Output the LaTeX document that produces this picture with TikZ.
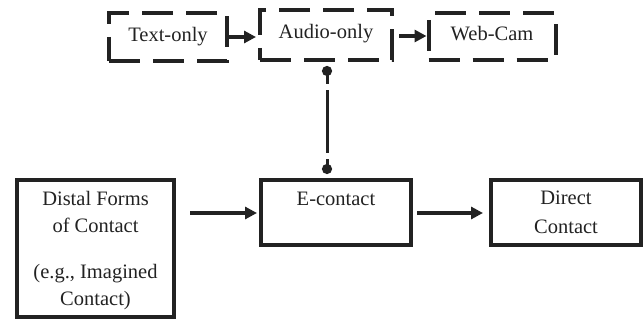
\documentclass[tikz,border=0pt]{standalone}
\usepackage{fontspec}
\setmainfont{Liberation Serif}
\usetikzlibrary{arrows.meta}
\definecolor{ink}{HTML}{222222}
\begin{document}
\begin{tikzpicture}[x=1pt,y=-1pt,
  txt/.style={font=\fontsize{20.5}{27}\selectfont, text=ink, align=center, inner sep=0pt},
  box/.style={draw=ink, line width=4pt, minimum width=#1, inner sep=0pt},
  dbox/.style={box=#1, dash pattern=on 31pt off 13pt},
  arr/.style={draw=ink, line width=4pt, -{Triangle[length=12pt,width=12pt]}},
  link/.style={draw=ink, line width=3pt, {Circle[length=10pt]}-{Circle[length=10pt]},
    dash pattern=on 10pt off 6pt on 63pt off 6pt on 40pt}
]
\useasboundingbox (0,0) rectangle (644,320);
% top row
\node[dbox=118pt, minimum height=48pt] (text) at (168,37) {};
\node[txt] (texttxt) at (168,37) {Text-only};
\node[dbox=132pt, minimum height=50pt] (audio) at (326,35) {};
\node[txt] (audiotxt) at (326,34) {Audio-only};
\node[dbox=127pt, minimum height=47pt] (web) at (492,36.5) {};
\node[txt] (webtxt) at (492,34) {Web-Cam};
% bottom row
\node[box=157pt, minimum height=137pt] (distal) at (95.5,248.5) {};
\node[txt] (distaltxt) at (95.5,250.5) {Distal Forms\\of Contact\\[19pt](e.g., Imagined\\Contact)};
\node[box=150pt, minimum height=65pt] (econtact) at (336,212.5) {};
\node[txt] (econtacttxt) at (336,199) {E-contact};
\node[box=150pt, minimum height=65pt] (direct) at (566,212.5) {};
\node[txt, font=\fontsize{20.5}{29}\selectfont] (directtxt) at (566,212.5) {Direct\\Contact};
% connectors
\draw[arr, shorten >=2pt] (text.east |- 0,37) -- (audio.west |- 0,37);
\draw[arr, shorten <=5pt] (audio.east |- 0,36) -- (web.west |- 0,36);
\draw[arr, shorten <=14pt, shorten >=2pt] (distal.east |- 0,213) -- (econtact.west |- 0,213);
\draw[arr, shorten <=4pt, shorten >=6pt] (econtact.east |- 0,213) -- (direct.west |- 0,213);
\draw[link, shorten <=4pt, shorten >=4pt] (audio.south -| 327,0) -- (econtact.north -| 327,0);
\end{tikzpicture}
\end{document}
